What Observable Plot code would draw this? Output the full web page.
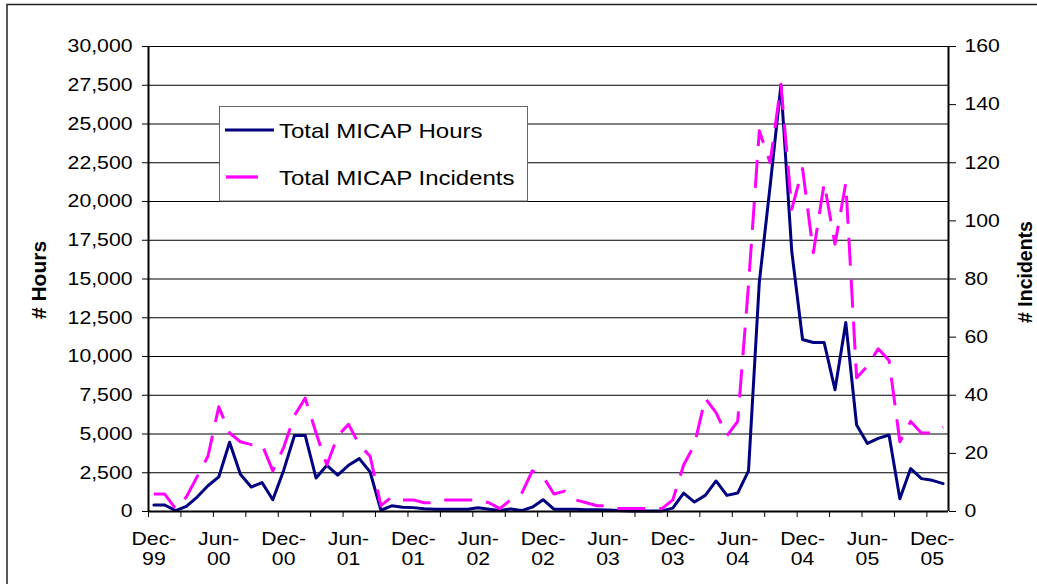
<!DOCTYPE html>
<html>
<head>
<meta charset="utf-8">
<script src="https://cdn.jsdelivr.net/npm/d3@7"></script>
<script src="https://cdn.jsdelivr.net/npm/@observablehq/plot@0.6"></script>
<style>
  html, body { margin: 0; padding: 0; background: #fff; }
  #chart { position: relative; width: 1037px; height: 584px; overflow: hidden; }
  #chart svg { display: block; }
</style>
</head>
<body>
<div id="chart"></div>
<script>
// ---- data ----
const months = [
  "Dec-99",
  "Jan-00","Feb-00","Mar-00","Apr-00","May-00","Jun-00","Jul-00","Aug-00","Sep-00","Oct-00","Nov-00","Dec-00",
  "Jan-01","Feb-01","Mar-01","Apr-01","May-01","Jun-01","Jul-01","Aug-01","Sep-01","Oct-01","Nov-01","Dec-01",
  "Jan-02","Feb-02","Mar-02","Apr-02","May-02","Jun-02","Jul-02","Aug-02","Sep-02","Oct-02","Nov-02","Dec-02",
  "Jan-03","Feb-03","Mar-03","Apr-03","May-03","Jun-03","Jul-03","Aug-03","Sep-03","Oct-03","Nov-03","Dec-03",
  "Jan-04","Feb-04","Mar-04","Apr-04","May-04","Jun-04","Jul-04","Aug-04","Sep-04","Oct-04","Nov-04","Dec-04",
  "Jan-05","Feb-05","Mar-05","Apr-05","May-05","Jun-05","Jul-05","Aug-05","Sep-05","Oct-05","Nov-05","Dec-05",
  "Jan-06"
];
const hours = [
  420, 420, 60, 330, 930, 1660, 2230, 4470, 2400, 1580, 1870, 760,
  2650, 4900, 4900, 2160, 2980, 2340, 2980, 3410, 2550, 80, 370, 280,
  250, 170, 150, 150, 150, 150, 240, 150, 60, 170, 60, 280,
  760, 150, 150, 150, 120, 110, 90, 60, 40, 40, 40, 40,
  220, 1190, 610, 1040, 1970, 1040, 1190, 2620, 14800, 21000, 27500, 16800,
  11100, 10900, 10900, 7860, 12190, 5580, 4390, 4720, 4935, 820, 2770, 2120,
  2010, 1800
];
const incidents = [
  6, 6, 1, 5, 12, 19, 36, 27, 24, 23, 23, 14,
  22, 33, 39, 27, 16, 26, 30, 23, 19, 2, 5, 4,
  4, 3, 3, 4, 4, 4, 4, 3, 1, 4, 6, 14,
  12, 6, 7, 4, 3, 2, 2, 1, 1, 1, 1, 1,
  4, 16, 23, 39, 34, 26, 31, 78, 131, 120, 147, 104,
  118, 89, 113, 92, 113, 46, 50, 56, 52, 24, 31, 27,
  27, 29
];
const hourTicks = [0, 2500, 5000, 7500, 10000, 12500, 15000, 17500, 20000, 22500, 25000, 27500, 30000];
const incidentTicks = [0, 20, 40, 60, 80, 100, 120, 140, 160];
const xTickLabels = ["Dec-\n99","Jun-\n00","Dec-\n00","Jun-\n01","Dec-\n01","Jun-\n02","Dec-\n02","Jun-\n03","Dec-\n03","Jun-\n04","Dec-\n04","Jun-\n05","Dec-\n05"];
const seriesNames = ["Total MICAP Hours", "Total MICAP Incidents"];
const seriesColors = ["#000080", "#ff00ff"];
const axisTitles = ["# Hours", "# Incidents"];

// ---- build ----
const HMAX = 30000, IMAX = 160, K = HMAX / IMAX;
const N = months.length;
const table = months.map((m, i) => ({ i, m, hours: hours[i], incidents: incidents[i] }));
const labelPos = d3.range(0, N, 6).map(i => i + 0.5);
const font = "'Liberation Sans', Arial, sans-serif";

const plot = Plot.plot({
  width: 1037,
  height: 584,
  marginLeft: 148,
  marginRight: 89,
  marginTop: 46,
  marginBottom: 73,
  style: { fontFamily: font, fontSize: "18px", background: "transparent", color: "#000", overflow: "visible" },
  x: { domain: [0, N], axis: null },
  y: { domain: [0, HMAX], axis: null },
  marks: [
    Plot.ruleY(hourTicks, { stroke: "#000", strokeWidth: 1 }),
    Plot.axisY(hourTicks, { anchor: "left", tickSize: 6, tickPadding: 10, tickFormat: d3.format(","), label: null, fontSize: 18, stroke: "#000" }),
    Plot.axisY(incidentTicks.map(v => v * K), { anchor: "right", tickSize: 7, tickPadding: 9, tickFormat: d => String(Math.round(d / K)), label: null, fontSize: 18, stroke: "#000" }),
    Plot.axisX(d3.range(0, N, 3), { anchor: "bottom", tickSize: 6, tickFormat: () => "", label: null, stroke: "#000" }),
    Plot.axisX(labelPos, { anchor: "bottom", tickSize: 0, tickPadding: 19, tickFormat: d => xTickLabels[Math.round((d - 0.5) / 6)], label: null, fontSize: 18, lineHeight: 1.11 }),
    Plot.line(table, { x: d => d.i + 0.5, y: "hours", stroke: seriesColors[0], strokeWidth: 3, strokeLinejoin: "round" }),
    Plot.line(table, { x: d => d.i + 0.5, y: d => d.incidents * K, stroke: seriesColors[1], strokeWidth: 3, strokeDasharray: "28,14", strokeLinecap: "butt", strokeLinejoin: "round" }),
    Plot.ruleX([0, N], { stroke: "#000", strokeWidth: 2 }),
    Plot.ruleY([0], { stroke: "#000", strokeWidth: 2 })
  ]
});

const chart = document.getElementById("chart");
chart.appendChild(plot);

function stretchText(el, f) {
  const bb = el.getBBox();
  const anchor = getComputedStyle(el).textAnchor;
  const ax = anchor === "end" ? bb.x + bb.width : anchor === "middle" ? bb.x + bb.width / 2 : bb.x;
  const t = el.getAttribute("transform") || "";
  el.setAttribute("transform", `${t} translate(${ax},0) scale(${f},1) translate(${-ax},0)`);
}
plot.querySelectorAll("text").forEach(el => stretchText(el, 1.18));

const svg = d3.select(plot);

// outer chart border
svg.append("rect")
  .attr("x", 7).attr("y", 4.5).attr("width", 1200).attr("height", 1000)
  .attr("fill", "none").attr("stroke", "#222").attr("stroke-width", 1.5);

// axis titles
svg.append("text")
  .attr("transform", "translate(46,280) rotate(-90)")
  .attr("text-anchor", "middle")
  .attr("font-family", font).attr("font-weight", "bold").attr("font-size", 21)
  .text(axisTitles[0]);
svg.append("text")
  .attr("transform", "translate(1032,272) rotate(-90)")
  .attr("text-anchor", "middle")
  .attr("font-family", font).attr("font-weight", "bold").attr("font-size", 19.5)
  .text(axisTitles[1]);

// legend
const lg = svg.append("g").attr("text-anchor", "start");
lg.append("rect").attr("x", 219.5).attr("y", 106.5).attr("width", 308).attr("height", 94.5)
  .attr("fill", "#fff").attr("stroke", "#666").attr("stroke-width", 1);
lg.append("line").attr("x1", 225).attr("x2", 274).attr("y1", 130).attr("y2", 130)
  .attr("stroke", seriesColors[0]).attr("stroke-width", 3);
lg.append("line").attr("x1", 226).attr("x2", 258).attr("y1", 177).attr("y2", 177)
  .attr("stroke", seriesColors[1]).attr("stroke-width", 3.3);
const t1 = lg.append("text").attr("x", 279).attr("y", 138.3).attr("text-anchor", "start")
  .attr("font-family", font).attr("font-size", 20).text(seriesNames[0]);
const t2 = lg.append("text").attr("x", 279).attr("y", 185).attr("text-anchor", "start")
  .attr("font-family", font).attr("font-size", 20).text(seriesNames[1]);
stretchText(t1.node(), 1.2);
stretchText(t2.node(), 1.2);
</script>
</body>
</html>
